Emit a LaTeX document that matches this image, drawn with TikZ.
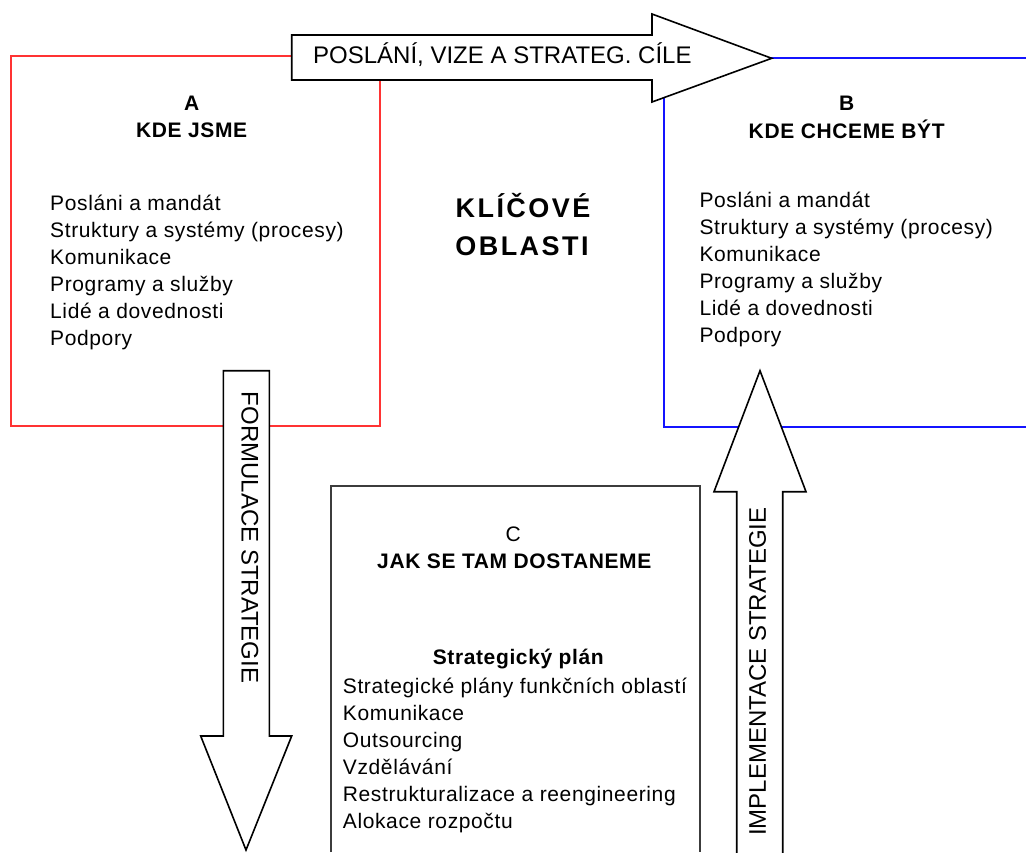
\documentclass[tikz,border=0pt]{standalone}
\usepackage{fontspec}
\setmainfont{Liberation Sans}
\newfontfamily\boxfont[LetterSpace=3]{Liberation Sans}
\newfontfamily\keyfont[LetterSpace=9]{Liberation Sans}
\definecolor{boxred}{RGB}{255,51,51}
\definecolor{boxblue}{RGB}{20,20,255}
\definecolor{boxgray}{RGB}{60,60,60}
\tikzset{
  redframe/.style={draw=boxred, line width=1.6pt},
  blueframe/.style={draw=boxblue, line width=1.8pt},
  grayframe/.style={draw=boxgray, line width=2pt},
  blockarrow/.style={draw=black, fill=white, line width=1.6pt, line join=miter},
  arrowtext/.style={inner sep=0pt, font=\fontsize{24}{28}\selectfont},
  head/.style={inner sep=0pt, font=\boxfont\bfseries\fontsize{21}{25}\selectfont},
  headlight/.style={inner sep=0pt, font=\boxfont\fontsize{21}{25}\selectfont},
  item/.style={inner sep=0pt, anchor=base west, font=\boxfont\fontsize{21}{25}\selectfont},
  keytext/.style={inner sep=0pt, anchor=base, font=\keyfont\bfseries\fontsize{27}{32}\selectfont}
}
\begin{document}
\begin{tikzpicture}[x=1pt,y=-1pt]
\useasboundingbox (0,0) rectangle (1026,852);
% boxes
\draw[redframe] (11,55.7) rectangle (380,425.7);
\draw[blueframe] (1026,58.3) -- (664,58.3) -- (664,426.7) -- (1026,426.7);
\draw[grayframe] (331,852) -- (331,486) -- (700,486) -- (700,852);
% block arrows
\draw[blockarrow] (291.7,35) -- (652,35) -- (652,14) -- (771.7,58.3) -- (652,102) -- (652,80) -- (291.7,80) -- cycle;
\draw[blockarrow] (223.3,370.7) -- (269.3,370.7) -- (269.3,736) -- (291.7,736) -- (246,850) -- (200.7,736) -- (223.3,736) -- cycle;
\draw[blockarrow] (736.7,860) -- (736.7,491.7) -- (714,491.7) -- (760,370.7) -- (806,491.7) -- (782.7,491.7) -- (782.7,860);
% arrow labels
\node[arrowtext, anchor=base west] (poslani) at (313,63.3) {POSLÁNÍ, VIZE A STRATEG. CÍLE};
\node[arrowtext, rotate=-90] (formulace) at (250,537.5) {FORMULACE STRATEGIE};
\node[arrowtext, rotate=90] (implementace) at (757.5,671.7) {IMPLEMENTACE STRATEGIE};
% key areas
\node[keytext] (klic1) at (523,217.7) {KLÍČOVÉ};
\node[keytext] (klic2) at (522,255) {OBLASTI};
% box A
\node[head, anchor=base] (atitle) at (191.7,110) {A};
\node[head, anchor=base] (asub) at (191.7,137.3) {KDE JSME};
\node[item] (a1) at (50,210.7) {Posláni a mandát};
\node[item] (a2) at (50,237.6) {Struktury a systémy (procesy)};
\node[item] (a3) at (50,264.5) {Komunikace};
\node[item] (a4) at (50,291.4) {Programy a služby};
\node[item] (a5) at (50,318.3) {Lidé a dovednosti};
\node[item] (a6) at (50,345.2) {Podpory};
% box B
\node[head, anchor=base] (btitle) at (846.7,110.5) {B};
\node[head, anchor=base] (bsub) at (846.7,138.3) {KDE CHCEME BÝT};
\node[item] (b1) at (699.3,207.5) {Posláni a mandát};
\node[item] (b2) at (699.3,234.5) {Struktury a systémy (procesy)};
\node[item] (b3) at (699.3,261.5) {Komunikace};
\node[item] (b4) at (699.3,288.5) {Programy a služby};
\node[item] (b5) at (699.3,315.5) {Lidé a dovednosti};
\node[item] (b6) at (699.3,342.5) {Podpory};
% box C
\node[headlight, anchor=base] (ctitle) at (513.3,541) {C};
\node[head, anchor=base] (csub) at (514.3,568.3) {JAK SE TAM DOSTANEME};
\node[head, anchor=base] (cplan) at (518.3,664) {Strategický plán};
\node[item] (c1) at (342.7,693.3) {Strategické plány funkčních oblastí};
\node[item] (c2) at (342.7,720.4) {Komunikace};
\node[item] (c3) at (342.7,747.5) {Outsourcing};
\node[item] (c4) at (342.7,774.6) {Vzdělávání};
\node[item] (c5) at (342.7,801.7) {Restrukturalizace a reengineering};
\node[item] (c6) at (342.7,828.8) {Alokace rozpočtu};
\end{tikzpicture}
\end{document}
